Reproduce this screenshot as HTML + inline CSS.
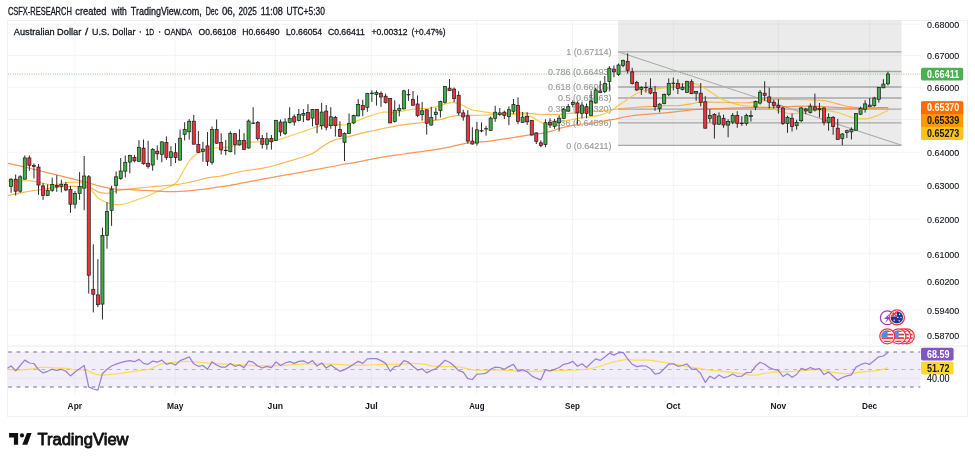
<!DOCTYPE html>
<html><head><meta charset="utf-8"><title>AUDUSD</title>
<style>html,body{margin:0;padding:0;background:#fff}body{width:975px;height:462px;overflow:hidden;font-family:"Liberation Sans", sans-serif}svg{display:block}text{font-family:"Liberation Sans", sans-serif}</style>
</head><body>
<svg width="975" height="462" viewBox="0 0 975 462">
<rect width="975" height="462" fill="#fff"/>
<g opacity="0.999">
<text x="7.9" y="15" font-size="10.3" fill="#131722" stroke="#131722" stroke-width="0.3" textLength="63.9" lengthAdjust="spacingAndGlyphs">CSFX-RESEARCH</text>
<text x="75.3" y="15" font-size="10.3" fill="#131722" stroke="#131722" stroke-width="0.3" textLength="31.1" lengthAdjust="spacingAndGlyphs">created</text>
<text x="111.6" y="15" font-size="10.3" fill="#131722" stroke="#131722" stroke-width="0.3" textLength="15.3" lengthAdjust="spacingAndGlyphs">with</text>
<text x="130.8" y="15" font-size="10.3" fill="#131722" stroke="#131722" stroke-width="0.3" textLength="71" lengthAdjust="spacingAndGlyphs">TradingView.com,</text>
<text x="205.7" y="15" font-size="10.3" fill="#131722" stroke="#131722" stroke-width="0.3" textLength="12.7" lengthAdjust="spacingAndGlyphs">Dec</text>
<text x="221.9" y="15" font-size="10.3" fill="#131722" stroke="#131722" stroke-width="0.3" textLength="13.4" lengthAdjust="spacingAndGlyphs">06,</text>
<text x="238.5" y="15" font-size="10.3" fill="#131722" stroke="#131722" stroke-width="0.3" textLength="18.3" lengthAdjust="spacingAndGlyphs">2025</text>
<text x="260.8" y="15" font-size="10.3" fill="#131722" stroke="#131722" stroke-width="0.3" textLength="22.1" lengthAdjust="spacingAndGlyphs">11:08</text>
<text x="286.4" y="15" font-size="10.3" fill="#131722" stroke="#131722" stroke-width="0.3" textLength="38.4" lengthAdjust="spacingAndGlyphs">UTC+5:30</text>
<rect x="7.5" y="20.4" width="960.1" height="396" fill="#fff" stroke="#efeff1" stroke-width="1"/>
<line x1="74.8" y1="21" x2="74.8" y2="394.8" stroke="#f3f4f6" stroke-width="1"/>
<line x1="175.2" y1="21" x2="175.2" y2="394.8" stroke="#f3f4f6" stroke-width="1"/>
<line x1="275.3" y1="21" x2="275.3" y2="394.8" stroke="#f3f4f6" stroke-width="1"/>
<line x1="371.4" y1="21" x2="371.4" y2="394.8" stroke="#f3f4f6" stroke-width="1"/>
<line x1="476.8" y1="21" x2="476.8" y2="394.8" stroke="#f3f4f6" stroke-width="1"/>
<line x1="572.5" y1="21" x2="572.5" y2="394.8" stroke="#f3f4f6" stroke-width="1"/>
<line x1="673.3" y1="21" x2="673.3" y2="394.8" stroke="#f3f4f6" stroke-width="1"/>
<line x1="778.4" y1="21" x2="778.4" y2="394.8" stroke="#f3f4f6" stroke-width="1"/>
<line x1="869.6" y1="21" x2="869.6" y2="394.8" stroke="#f3f4f6" stroke-width="1"/>
<line x1="8" y1="24.1" x2="920.3" y2="24.1" stroke="#f3f4f6" stroke-width="1"/>
<line x1="8" y1="55.4" x2="920.3" y2="55.4" stroke="#f3f4f6" stroke-width="1"/>
<line x1="8" y1="87.2" x2="920.3" y2="87.2" stroke="#f3f4f6" stroke-width="1"/>
<line x1="8" y1="119.5" x2="920.3" y2="119.5" stroke="#f3f4f6" stroke-width="1"/>
<line x1="8" y1="152.2" x2="920.3" y2="152.2" stroke="#f3f4f6" stroke-width="1"/>
<line x1="8" y1="185.5" x2="920.3" y2="185.5" stroke="#f3f4f6" stroke-width="1"/>
<line x1="8" y1="219.4" x2="920.3" y2="219.4" stroke="#f3f4f6" stroke-width="1"/>
<line x1="8" y1="253.7" x2="920.3" y2="253.7" stroke="#f3f4f6" stroke-width="1"/>
<line x1="8" y1="281.6" x2="920.3" y2="281.6" stroke="#f3f4f6" stroke-width="1"/>
<line x1="8" y1="309.9" x2="920.3" y2="309.9" stroke="#f3f4f6" stroke-width="1"/>
<line x1="8" y1="335.0" x2="920.3" y2="335.0" stroke="#f3f4f6" stroke-width="1"/>
<line x1="8" y1="346" x2="967.6" y2="346" stroke="#e9eaee" stroke-width="1"/>
<line x1="8" y1="378.2" x2="920.3" y2="378.2" stroke="#f3f4f6" stroke-width="1"/>
<rect x="618.1" y="20.5" width="283.4" height="124.8" fill="#7d7d7d" fill-opacity="0.155"/>
<line x1="618.1" y1="51.8" x2="901.5" y2="51.8" stroke="#a7a7a7" stroke-width="1.3"/>
<text x="611.5" y="55.0" font-size="9" fill="#9c9c9c" stroke="#9c9c9c" stroke-width="0.15" text-anchor="end">1 (0.67114)</text>
<line x1="618.1" y1="71.5" x2="901.5" y2="71.5" stroke="#a7a7a7" stroke-width="1.3"/>
<text x="611.5" y="74.7" font-size="9" fill="#9c9c9c" stroke="#9c9c9c" stroke-width="0.15" text-anchor="end">0.786 (0.66493)</text>
<line x1="618.1" y1="87.0" x2="901.5" y2="87.0" stroke="#a7a7a7" stroke-width="1.3"/>
<text x="611.5" y="90.2" font-size="9" fill="#9c9c9c" stroke="#9c9c9c" stroke-width="0.15" text-anchor="end">0.618 (0.66005)</text>
<line x1="618.1" y1="98.0" x2="901.5" y2="98.0" stroke="#a7a7a7" stroke-width="1.3"/>
<text x="611.5" y="101.2" font-size="9" fill="#9c9c9c" stroke="#9c9c9c" stroke-width="0.15" text-anchor="end">0.5 (0.65663)</text>
<line x1="618.1" y1="109.1" x2="901.5" y2="109.1" stroke="#a7a7a7" stroke-width="1.3"/>
<text x="611.5" y="112.3" font-size="9" fill="#9c9c9c" stroke="#9c9c9c" stroke-width="0.15" text-anchor="end">0.382 (0.65320)</text>
<line x1="618.1" y1="122.8" x2="901.5" y2="122.8" stroke="#a7a7a7" stroke-width="1.3"/>
<text x="611.5" y="126.0" font-size="9" fill="#9c9c9c" stroke="#9c9c9c" stroke-width="0.15" text-anchor="end">0.236 (0.64896)</text>
<line x1="618.1" y1="145.3" x2="901.5" y2="145.3" stroke="#a7a7a7" stroke-width="1.3"/>
<text x="611.5" y="148.5" font-size="9" fill="#9c9c9c" stroke="#9c9c9c" stroke-width="0.15" text-anchor="end">0 (0.64211)</text>
<line x1="618.1" y1="51.8" x2="901.5" y2="145.3" stroke="#ababab" stroke-width="1.1"/>
<line x1="8" y1="74.1" x2="920.3" y2="74.1" stroke="#4caf50" stroke-width="1" stroke-dasharray="0.9 1.45" opacity="0.72"/>
<path d="M8.2 181.2 C12.0 181.1 25.3 180.5 30.8 180.8 C36.3 181.1 37.2 182.1 41.0 182.8 C44.8 183.5 48.8 185.0 53.3 184.9 C57.8 184.8 62.9 182.8 67.7 182.4 C72.5 182.1 78.2 181.7 82.0 182.8 C85.8 183.9 87.5 186.4 90.3 189.0 C93.0 191.6 95.1 195.7 98.5 198.2 C101.9 200.7 106.8 203.0 110.8 204.0 C114.8 205.0 118.3 204.9 122.3 204.3 C126.3 203.7 130.6 201.9 134.7 200.6 C138.8 199.3 142.9 198.0 147.0 196.3 C151.1 194.7 155.2 192.4 159.3 190.7 C163.4 188.9 168.6 187.5 171.7 185.8 C174.8 184.2 175.8 183.5 177.8 180.8 C179.9 178.1 181.9 173.2 184.0 169.7 C186.1 166.2 188.1 162.5 190.2 159.9 C192.2 157.3 194.1 155.9 196.3 154.3 C198.6 152.8 200.6 151.6 203.7 150.6 C206.8 149.6 211.2 148.6 214.8 148.1 C218.4 147.6 222.1 147.7 225.0 147.4 C227.9 147.1 228.0 146.9 232.3 146.1 C236.6 145.3 244.6 143.2 250.8 142.4 C257.0 141.6 264.6 141.7 269.3 141.2 C274.0 140.7 275.9 140.3 279.2 139.5 C282.5 138.7 285.6 137.4 289.1 136.2 C292.6 135.0 296.3 133.8 300.2 132.5 C304.1 131.2 309.4 129.2 312.5 128.2 C315.6 127.2 315.6 126.9 318.7 126.3 C321.8 125.7 327.9 124.7 331.0 124.4 C334.1 124.1 335.1 124.2 337.4 124.3 C339.7 124.4 341.9 125.4 344.8 125.0 C347.7 124.6 351.0 123.2 354.7 121.9 C358.4 120.6 362.9 118.4 367.0 116.9 C371.1 115.4 376.2 113.8 379.3 113.0 C382.4 112.2 383.0 112.1 385.5 112.0 C388.0 111.9 391.0 112.8 394.1 112.6 C397.2 112.4 400.3 111.4 404.0 110.8 C407.7 110.2 412.2 109.3 416.3 108.9 C420.4 108.5 424.6 108.9 428.7 108.3 C432.8 107.7 437.9 106.2 441.0 105.4 C444.1 104.6 445.3 103.8 447.4 103.3 C449.5 102.8 451.3 102.5 453.6 102.7 C455.9 102.9 458.1 103.4 461.0 104.5 C463.9 105.6 467.5 108.4 470.8 109.5 C474.1 110.6 477.6 110.8 480.7 111.3 C483.8 111.8 486.8 112.2 489.3 112.6 C491.8 113.0 493.0 113.6 495.5 113.8 C498.0 114.0 501.0 113.7 504.1 113.8 C507.2 113.9 510.3 114.2 514.0 114.4 C517.7 114.6 523.0 114.4 526.3 115.0 C529.6 115.6 531.0 116.8 533.7 118.1 C536.4 119.4 539.5 122.0 542.4 123.0 C545.3 124.0 547.7 124.5 551.0 124.3 C554.3 124.0 558.3 122.4 562.3 121.5 C566.2 120.6 570.6 119.8 574.7 119.1 C578.8 118.4 582.9 117.8 587.0 117.2 C591.1 116.6 595.6 116.3 599.3 115.4 C603.0 114.5 606.1 113.2 609.2 111.7 C612.3 110.2 614.9 108.1 617.8 106.1 C620.7 104.1 624.1 101.6 626.5 99.9 C628.9 98.2 630.0 97.4 632.0 96.2 C634.0 95.0 636.0 93.6 638.8 92.5 C641.6 91.4 645.0 90.3 648.7 89.6 C652.4 88.9 657.9 88.8 661.0 88.4 C664.1 88.0 664.9 87.9 667.4 87.3 C669.9 86.7 673.1 85.6 676.0 85.0 C678.9 84.4 681.6 83.8 684.7 83.6 C687.8 83.4 691.4 83.0 694.5 83.6 C697.6 84.2 700.3 85.8 703.2 87.3 C706.1 88.8 708.7 90.8 711.8 92.8 C714.9 94.8 718.4 97.3 721.7 99.0 C725.0 100.7 728.4 101.7 731.5 102.7 C734.6 103.7 736.7 104.6 740.2 105.2 C743.7 105.8 749.4 106.1 752.5 106.4 C755.6 106.7 755.6 106.5 758.7 106.8 C761.8 107.1 767.9 107.6 771.0 108.2 C774.1 108.8 774.9 109.8 777.4 110.6 C779.9 111.4 783.1 112.6 786.0 113.1 C788.9 113.6 791.8 113.9 794.7 113.7 C797.6 113.5 800.2 112.5 803.3 111.9 C806.4 111.3 809.5 110.2 813.2 110.0 C816.9 109.8 821.4 110.2 825.5 110.6 C829.6 111.0 833.7 111.5 837.8 112.5 C841.9 113.5 846.7 115.8 850.2 116.8 C853.7 117.8 855.7 118.5 858.8 118.7 C861.9 119.0 865.6 118.8 868.7 118.3 C871.8 117.8 874.8 116.6 877.3 115.6 C879.8 114.6 881.8 113.3 883.5 112.5 C885.2 111.7 887.1 110.9 887.8 110.6" fill="none" stroke="#fbc63a" stroke-width="1.2" stroke-linejoin="round" stroke-linecap="round" opacity="0.9"/>
<path d="M8.2 195.5 C10.9 194.9 19.1 193.1 24.6 192.1 C30.1 191.1 34.9 190.5 41.0 189.6 C47.1 188.7 55.4 187.4 61.5 186.9 C67.7 186.4 73.1 186.3 77.9 186.5 C82.7 186.7 86.9 187.0 90.3 187.9 C93.7 188.8 95.4 191.2 98.5 192.1 C101.6 193.0 105.3 193.4 108.7 193.1 C112.1 192.8 114.9 191.1 119.0 190.3 C123.1 189.6 127.5 189.2 133.3 188.6 C139.1 188.0 147.0 187.2 153.8 186.6 C160.6 186.0 168.0 185.7 174.1 184.9 C180.2 184.2 184.4 183.3 190.2 182.1 C196.0 180.9 203.7 178.6 208.7 177.6 C213.7 176.6 215.0 177.2 220.0 176.3 C225.0 175.4 231.3 173.4 238.5 172.0 C245.7 170.6 256.0 169.5 263.2 168.1 C270.4 166.7 275.5 165.1 281.7 163.4 C287.9 161.7 295.1 159.5 300.2 157.8 C305.3 156.2 308.4 155.7 312.5 153.5 C316.6 151.3 321.1 147.2 324.8 144.9 C328.5 142.6 332.1 140.9 334.7 139.9 C337.3 138.9 338.0 139.2 340.3 138.7 C342.6 138.2 345.2 137.5 348.5 136.7 C351.8 135.8 355.9 134.6 360.0 133.6 C364.1 132.6 368.9 131.7 373.2 130.8 C377.4 129.9 380.4 129.0 385.5 128.0 C390.6 127.0 397.8 125.5 404.0 124.6 C410.2 123.7 417.4 123.2 422.5 122.5 C427.6 121.8 431.2 121.1 434.8 120.4 C438.4 119.8 441.1 119.3 444.0 118.6 C446.9 117.9 448.9 116.8 452.3 116.3 C455.8 115.8 458.5 115.6 464.7 115.4 C470.9 115.2 483.1 115.2 489.3 115.0 C495.5 114.8 496.5 114.5 501.7 114.2 C506.9 113.9 514.0 112.9 520.2 112.9 C526.4 112.9 532.9 113.9 538.7 114.2 C544.5 114.5 549.0 114.7 555.0 114.5 C561.0 114.3 568.3 113.4 574.7 112.9 C581.1 112.4 587.0 112.2 593.2 111.7 C599.4 111.2 607.4 110.3 611.7 109.8 C616.0 109.3 615.0 109.2 619.1 108.8 C623.2 108.4 630.3 107.7 636.3 107.3 C642.2 106.9 649.8 106.6 654.8 106.3 C659.8 106.0 662.0 105.7 666.0 105.6 C670.0 105.5 674.4 105.9 678.5 105.6 C682.6 105.3 687.1 104.5 690.8 103.9 C694.5 103.4 695.6 102.6 700.7 102.3 C705.9 102.0 714.1 102.2 721.7 102.3 C729.3 102.4 739.1 103.0 746.3 102.7 C753.5 102.5 760.0 101.3 764.8 100.8 C769.6 100.2 770.0 99.6 775.0 99.4 C780.0 99.2 788.3 99.4 794.7 99.5 C801.1 99.6 808.1 99.7 813.2 99.9 C818.3 100.1 821.4 100.1 825.5 100.8 C829.6 101.5 833.7 102.9 837.8 103.9 C841.9 104.9 846.1 106.2 850.2 106.9 C854.3 107.6 857.4 108.0 862.5 108.2 C867.6 108.4 876.8 108.0 881.0 107.9 C885.2 107.9 886.7 107.9 887.8 107.9" fill="none" stroke="#ffa62b" stroke-width="1.15" stroke-linejoin="round" stroke-linecap="round" opacity="0.85"/>
<path d="M8.2 163.3 C12.0 164.2 23.6 166.8 30.8 168.5 C38.0 170.2 44.5 171.9 51.3 173.6 C58.1 175.3 65.6 177.2 71.8 178.7 C78.0 180.2 83.1 181.4 88.2 182.8 C93.3 184.2 98.1 185.9 102.6 186.9 C107.0 187.9 109.6 188.5 114.9 189.0 C120.2 189.5 127.3 189.4 134.7 189.8 C142.1 190.2 152.7 191.0 159.3 191.3 C165.9 191.6 167.9 191.8 174.1 191.6 C180.3 191.4 189.5 190.8 196.3 190.1 C203.1 189.4 209.2 188.4 214.8 187.6 C220.5 186.8 224.2 186.4 230.2 185.4 C236.2 184.4 242.2 182.9 250.8 181.3 C259.4 179.7 271.4 177.5 281.7 175.7 C292.0 173.8 302.7 172.0 312.5 170.2 C322.3 168.4 333.3 166.3 340.3 165.0 C347.3 163.7 348.2 163.8 354.7 162.6 C361.2 161.4 371.1 159.1 379.3 157.7 C387.5 156.3 395.8 155.2 404.0 154.0 C412.2 152.8 421.0 151.9 428.7 150.7 C436.4 149.5 444.3 148.0 450.3 146.8 C456.3 145.6 458.2 144.6 464.7 143.6 C471.2 142.6 481.1 142.1 489.3 141.1 C497.5 140.1 507.0 138.5 514.0 137.4 C521.0 136.3 526.6 135.4 531.3 134.7 C536.0 134.0 539.1 133.9 542.4 133.3 C545.7 132.7 547.7 132.1 551.0 131.2 C554.3 130.3 558.3 128.7 562.3 127.7 C566.2 126.7 569.6 126.0 574.7 125.2 C579.9 124.4 587.0 123.7 593.2 122.8 C599.4 121.9 605.5 120.8 611.7 119.7 C617.9 118.6 624.0 116.9 630.2 116.0 C636.4 115.1 643.4 114.6 648.7 114.1 C654.0 113.6 657.0 113.7 662.0 113.2 C667.0 112.7 672.7 111.9 678.5 111.3 C684.3 110.7 689.8 110.0 697.0 109.5 C704.2 109.0 713.5 108.8 721.7 108.5 C729.9 108.2 739.1 107.8 746.3 107.6 C753.5 107.4 759.1 107.7 764.8 107.6 C770.5 107.5 775.3 107.2 780.3 107.0 C785.3 106.8 788.2 106.4 794.7 106.3 C801.2 106.2 812.1 106.1 819.3 106.3 C826.5 106.5 831.6 107.3 837.8 107.6 C844.0 107.9 850.1 108.2 856.3 108.2 C862.5 108.2 869.5 108.0 874.8 107.9 C880.0 107.8 885.6 107.6 887.8 107.6" fill="none" stroke="#ff7a2e" stroke-width="1.25" stroke-linejoin="round" stroke-linecap="round" opacity="0.8"/>
<line x1="11.10" y1="178.2" x2="11.10" y2="192.8" stroke="#2a2a2a" stroke-width="1"/>
<rect x="9.55" y="179.2" width="3.1" height="7.4" fill="#3fae45" stroke="#1b1b1b" stroke-width="0.7"/>
<line x1="15.67" y1="174.5" x2="15.67" y2="195.5" stroke="#2a2a2a" stroke-width="1"/>
<rect x="14.12" y="179.2" width="3.1" height="12.0" fill="#f0323f" stroke="#1b1b1b" stroke-width="0.7"/>
<line x1="20.23" y1="175.2" x2="20.23" y2="192.8" stroke="#2a2a2a" stroke-width="1"/>
<rect x="18.68" y="176.8" width="3.1" height="14.4" fill="#3fae45" stroke="#1b1b1b" stroke-width="0.7"/>
<line x1="24.80" y1="155.4" x2="24.80" y2="179.5" stroke="#2a2a2a" stroke-width="1"/>
<rect x="23.25" y="157.9" width="3.1" height="21.3" fill="#3fae45" stroke="#1b1b1b" stroke-width="0.7"/>
<line x1="29.37" y1="155.4" x2="29.37" y2="170.8" stroke="#2a2a2a" stroke-width="1"/>
<rect x="27.82" y="157.9" width="3.1" height="7.4" fill="#f0323f" stroke="#1b1b1b" stroke-width="0.7"/>
<line x1="33.94" y1="163.4" x2="33.94" y2="178.5" stroke="#2a2a2a" stroke-width="1"/>
<rect x="32.39" y="165.3" width="3.1" height="1.2" fill="#f0323f" stroke="#1b1b1b" stroke-width="0.7"/>
<line x1="38.50" y1="164.1" x2="38.50" y2="194.9" stroke="#2a2a2a" stroke-width="1"/>
<rect x="36.95" y="167.1" width="3.1" height="17.9" fill="#f0323f" stroke="#1b1b1b" stroke-width="0.7"/>
<line x1="43.07" y1="183.2" x2="43.07" y2="199.9" stroke="#2a2a2a" stroke-width="1"/>
<rect x="41.52" y="185.9" width="3.1" height="9.6" fill="#f0323f" stroke="#1b1b1b" stroke-width="0.7"/>
<line x1="47.64" y1="184.4" x2="47.64" y2="196.0" stroke="#2a2a2a" stroke-width="1"/>
<rect x="46.09" y="190.3" width="3.1" height="5.2" fill="#3fae45" stroke="#1b1b1b" stroke-width="0.7"/>
<line x1="52.20" y1="177.6" x2="52.20" y2="191.8" stroke="#2a2a2a" stroke-width="1"/>
<rect x="50.65" y="184.4" width="3.1" height="5.9" fill="#3fae45" stroke="#1b1b1b" stroke-width="0.7"/>
<line x1="56.77" y1="175.2" x2="56.77" y2="191.8" stroke="#2a2a2a" stroke-width="1"/>
<rect x="55.22" y="185.4" width="3.1" height="1.5" fill="#f0323f" stroke="#1b1b1b" stroke-width="0.7"/>
<line x1="61.34" y1="179.7" x2="61.34" y2="192.4" stroke="#2a2a2a" stroke-width="1"/>
<rect x="59.79" y="184.6" width="3.1" height="1.7" fill="#3fae45" stroke="#1b1b1b" stroke-width="0.7"/>
<line x1="65.90" y1="181.9" x2="65.90" y2="191.2" stroke="#2a2a2a" stroke-width="1"/>
<rect x="64.35" y="184.4" width="3.1" height="5.6" fill="#f0323f" stroke="#1b1b1b" stroke-width="0.7"/>
<line x1="70.47" y1="185.9" x2="70.47" y2="212.8" stroke="#2a2a2a" stroke-width="1"/>
<rect x="68.92" y="189.6" width="3.1" height="14.6" fill="#f0323f" stroke="#1b1b1b" stroke-width="0.7"/>
<line x1="75.04" y1="191.0" x2="75.04" y2="208.5" stroke="#2a2a2a" stroke-width="1"/>
<rect x="73.49" y="193.5" width="3.1" height="10.7" fill="#3fae45" stroke="#1b1b1b" stroke-width="0.7"/>
<line x1="79.60" y1="172.1" x2="79.60" y2="199.9" stroke="#2a2a2a" stroke-width="1"/>
<rect x="78.05" y="186.6" width="3.1" height="6.9" fill="#3fae45" stroke="#1b1b1b" stroke-width="0.7"/>
<line x1="84.17" y1="156.0" x2="84.17" y2="210.3" stroke="#2a2a2a" stroke-width="1"/>
<rect x="82.62" y="176.0" width="3.1" height="12.1" fill="#3fae45" stroke="#1b1b1b" stroke-width="0.7"/>
<line x1="88.74" y1="175.1" x2="88.74" y2="293.6" stroke="#2a2a2a" stroke-width="1"/>
<rect x="87.19" y="176.8" width="3.1" height="98.4" fill="#f0323f" stroke="#1b1b1b" stroke-width="0.7"/>
<line x1="93.31" y1="244.3" x2="93.31" y2="312.4" stroke="#2a2a2a" stroke-width="1"/>
<rect x="91.76" y="289.3" width="3.1" height="4.9" fill="#f0323f" stroke="#1b1b1b" stroke-width="0.7"/>
<line x1="97.87" y1="259.1" x2="97.87" y2="307.2" stroke="#2a2a2a" stroke-width="1"/>
<rect x="96.32" y="294.9" width="3.1" height="9.8" fill="#f0323f" stroke="#1b1b1b" stroke-width="0.7"/>
<line x1="102.44" y1="227.6" x2="102.44" y2="319.5" stroke="#2a2a2a" stroke-width="1"/>
<rect x="100.89" y="235.4" width="3.1" height="68.7" fill="#3fae45" stroke="#1b1b1b" stroke-width="0.7"/>
<line x1="107.01" y1="202.3" x2="107.01" y2="248.6" stroke="#2a2a2a" stroke-width="1"/>
<rect x="105.46" y="211.6" width="3.1" height="23.8" fill="#3fae45" stroke="#1b1b1b" stroke-width="0.7"/>
<line x1="111.57" y1="185.9" x2="111.57" y2="225.8" stroke="#2a2a2a" stroke-width="1"/>
<rect x="110.02" y="189.1" width="3.1" height="21.2" fill="#3fae45" stroke="#1b1b1b" stroke-width="0.7"/>
<line x1="116.14" y1="171.5" x2="116.14" y2="193.5" stroke="#2a2a2a" stroke-width="1"/>
<rect x="114.59" y="176.8" width="3.1" height="8.5" fill="#3fae45" stroke="#1b1b1b" stroke-width="0.7"/>
<line x1="120.71" y1="158.0" x2="120.71" y2="179.8" stroke="#2a2a2a" stroke-width="1"/>
<rect x="119.16" y="171.0" width="3.1" height="7.6" fill="#3fae45" stroke="#1b1b1b" stroke-width="0.7"/>
<line x1="125.28" y1="155.5" x2="125.28" y2="177.4" stroke="#2a2a2a" stroke-width="1"/>
<rect x="123.73" y="162.3" width="3.1" height="8.9" fill="#3fae45" stroke="#1b1b1b" stroke-width="0.7"/>
<line x1="129.84" y1="154.9" x2="129.84" y2="173.4" stroke="#2a2a2a" stroke-width="1"/>
<rect x="128.29" y="155.5" width="3.1" height="6.6" fill="#3fae45" stroke="#1b1b1b" stroke-width="0.7"/>
<line x1="134.41" y1="154.9" x2="134.41" y2="162.3" stroke="#2a2a2a" stroke-width="1"/>
<rect x="132.86" y="157.4" width="3.1" height="3.5" fill="#f0323f" stroke="#1b1b1b" stroke-width="0.7"/>
<line x1="138.98" y1="140.1" x2="138.98" y2="161.7" stroke="#2a2a2a" stroke-width="1"/>
<rect x="137.43" y="147.5" width="3.1" height="13.8" fill="#3fae45" stroke="#1b1b1b" stroke-width="0.7"/>
<line x1="143.54" y1="139.5" x2="143.54" y2="164.6" stroke="#2a2a2a" stroke-width="1"/>
<rect x="141.99" y="148.1" width="3.1" height="15.7" fill="#f0323f" stroke="#1b1b1b" stroke-width="0.7"/>
<line x1="148.11" y1="140.9" x2="148.11" y2="168.5" stroke="#2a2a2a" stroke-width="1"/>
<rect x="146.56" y="163.3" width="3.1" height="3.0" fill="#f0323f" stroke="#1b1b1b" stroke-width="0.7"/>
<line x1="152.68" y1="148.1" x2="152.68" y2="170.7" stroke="#2a2a2a" stroke-width="1"/>
<rect x="151.13" y="149.3" width="3.1" height="15.7" fill="#3fae45" stroke="#1b1b1b" stroke-width="0.7"/>
<line x1="157.24" y1="145.4" x2="157.24" y2="159.9" stroke="#2a2a2a" stroke-width="1"/>
<rect x="155.69" y="151.2" width="3.1" height="2.6" fill="#f0323f" stroke="#1b1b1b" stroke-width="0.7"/>
<line x1="161.81" y1="141.3" x2="161.81" y2="162.3" stroke="#2a2a2a" stroke-width="1"/>
<rect x="160.26" y="141.9" width="3.1" height="12.4" fill="#3fae45" stroke="#1b1b1b" stroke-width="0.7"/>
<line x1="166.38" y1="136.4" x2="166.38" y2="159.9" stroke="#2a2a2a" stroke-width="1"/>
<rect x="164.83" y="142.6" width="3.1" height="14.8" fill="#f0323f" stroke="#1b1b1b" stroke-width="0.7"/>
<line x1="170.94" y1="146.3" x2="170.94" y2="166.3" stroke="#2a2a2a" stroke-width="1"/>
<rect x="169.39" y="151.8" width="3.1" height="5.8" fill="#3fae45" stroke="#1b1b1b" stroke-width="0.7"/>
<line x1="175.51" y1="143.2" x2="175.51" y2="163.0" stroke="#2a2a2a" stroke-width="1"/>
<rect x="173.96" y="152.7" width="3.1" height="4.9" fill="#f0323f" stroke="#1b1b1b" stroke-width="0.7"/>
<line x1="180.08" y1="129.6" x2="180.08" y2="160.5" stroke="#2a2a2a" stroke-width="1"/>
<rect x="178.53" y="138.2" width="3.1" height="21.9" fill="#3fae45" stroke="#1b1b1b" stroke-width="0.7"/>
<line x1="184.65" y1="122.2" x2="184.65" y2="140.5" stroke="#2a2a2a" stroke-width="1"/>
<rect x="183.10" y="129.6" width="3.1" height="4.7" fill="#3fae45" stroke="#1b1b1b" stroke-width="0.7"/>
<line x1="189.21" y1="119.1" x2="189.21" y2="139.7" stroke="#2a2a2a" stroke-width="1"/>
<rect x="187.66" y="121.2" width="3.1" height="10.6" fill="#3fae45" stroke="#1b1b1b" stroke-width="0.7"/>
<line x1="193.78" y1="115.0" x2="193.78" y2="144.4" stroke="#2a2a2a" stroke-width="1"/>
<rect x="192.23" y="121.2" width="3.1" height="23.0" fill="#f0323f" stroke="#1b1b1b" stroke-width="0.7"/>
<line x1="198.35" y1="131.1" x2="198.35" y2="153.0" stroke="#2a2a2a" stroke-width="1"/>
<rect x="196.80" y="144.4" width="3.1" height="7.9" fill="#f0323f" stroke="#1b1b1b" stroke-width="0.7"/>
<line x1="202.91" y1="141.9" x2="202.91" y2="161.7" stroke="#2a2a2a" stroke-width="1"/>
<rect x="201.36" y="149.1" width="3.1" height="2.5" fill="#3fae45" stroke="#1b1b1b" stroke-width="0.7"/>
<line x1="207.48" y1="132.1" x2="207.48" y2="166.0" stroke="#2a2a2a" stroke-width="1"/>
<rect x="205.93" y="145.9" width="3.1" height="15.4" fill="#f0323f" stroke="#1b1b1b" stroke-width="0.7"/>
<line x1="212.05" y1="126.5" x2="212.05" y2="164.6" stroke="#2a2a2a" stroke-width="1"/>
<rect x="210.50" y="129.6" width="3.1" height="32.7" fill="#3fae45" stroke="#1b1b1b" stroke-width="0.7"/>
<line x1="216.62" y1="119.5" x2="216.62" y2="143.8" stroke="#2a2a2a" stroke-width="1"/>
<rect x="215.06" y="129.6" width="3.1" height="13.6" fill="#f0323f" stroke="#1b1b1b" stroke-width="0.7"/>
<line x1="221.18" y1="133.3" x2="221.18" y2="154.5" stroke="#2a2a2a" stroke-width="1"/>
<rect x="219.63" y="142.6" width="3.1" height="7.3" fill="#f0323f" stroke="#1b1b1b" stroke-width="0.7"/>
<line x1="225.75" y1="139.9" x2="225.75" y2="155.3" stroke="#2a2a2a" stroke-width="1"/>
<line x1="223.85" y1="150.4" x2="227.65" y2="150.4" stroke="#1b1b1b" stroke-width="1.1"/>
<line x1="230.32" y1="131.3" x2="230.32" y2="152.3" stroke="#2a2a2a" stroke-width="1"/>
<rect x="228.77" y="133.3" width="3.1" height="18.4" fill="#3fae45" stroke="#1b1b1b" stroke-width="0.7"/>
<line x1="234.88" y1="133.1" x2="234.88" y2="154.7" stroke="#2a2a2a" stroke-width="1"/>
<rect x="233.33" y="133.7" width="3.1" height="10.9" fill="#f0323f" stroke="#1b1b1b" stroke-width="0.7"/>
<line x1="239.45" y1="129.4" x2="239.45" y2="145.5" stroke="#2a2a2a" stroke-width="1"/>
<rect x="237.90" y="140.5" width="3.1" height="4.4" fill="#3fae45" stroke="#1b1b1b" stroke-width="0.7"/>
<line x1="244.02" y1="133.1" x2="244.02" y2="149.8" stroke="#2a2a2a" stroke-width="1"/>
<rect x="242.47" y="140.5" width="3.1" height="9.1" fill="#f0323f" stroke="#1b1b1b" stroke-width="0.7"/>
<line x1="248.58" y1="119.5" x2="248.58" y2="148.6" stroke="#2a2a2a" stroke-width="1"/>
<rect x="247.03" y="121.0" width="3.1" height="27.0" fill="#3fae45" stroke="#1b1b1b" stroke-width="0.7"/>
<line x1="253.15" y1="107.2" x2="253.15" y2="124.0" stroke="#2a2a2a" stroke-width="1"/>
<line x1="251.25" y1="123.2" x2="255.05" y2="123.2" stroke="#1b1b1b" stroke-width="1.1"/>
<line x1="257.72" y1="121.0" x2="257.72" y2="140.5" stroke="#2a2a2a" stroke-width="1"/>
<rect x="256.17" y="122.6" width="3.1" height="16.1" fill="#f0323f" stroke="#1b1b1b" stroke-width="0.7"/>
<line x1="262.29" y1="135.0" x2="262.29" y2="148.6" stroke="#2a2a2a" stroke-width="1"/>
<rect x="260.74" y="138.4" width="3.1" height="5.9" fill="#f0323f" stroke="#1b1b1b" stroke-width="0.7"/>
<line x1="266.85" y1="132.5" x2="266.85" y2="149.6" stroke="#2a2a2a" stroke-width="1"/>
<rect x="265.30" y="138.8" width="3.1" height="5.5" fill="#3fae45" stroke="#1b1b1b" stroke-width="0.7"/>
<line x1="271.42" y1="135.0" x2="271.42" y2="149.6" stroke="#2a2a2a" stroke-width="1"/>
<rect x="269.87" y="138.4" width="3.1" height="3.4" fill="#f0323f" stroke="#1b1b1b" stroke-width="0.7"/>
<line x1="275.99" y1="119.8" x2="275.99" y2="141.0" stroke="#2a2a2a" stroke-width="1"/>
<rect x="274.44" y="120.5" width="3.1" height="20.0" fill="#3fae45" stroke="#1b1b1b" stroke-width="0.7"/>
<line x1="280.55" y1="119.5" x2="280.55" y2="136.2" stroke="#2a2a2a" stroke-width="1"/>
<rect x="279.00" y="122.0" width="3.1" height="9.9" fill="#f0323f" stroke="#1b1b1b" stroke-width="0.7"/>
<line x1="285.12" y1="118.3" x2="285.12" y2="135.0" stroke="#2a2a2a" stroke-width="1"/>
<rect x="283.57" y="122.0" width="3.1" height="11.3" fill="#3fae45" stroke="#1b1b1b" stroke-width="0.7"/>
<line x1="289.69" y1="107.2" x2="289.69" y2="123.5" stroke="#2a2a2a" stroke-width="1"/>
<rect x="288.14" y="118.3" width="3.1" height="4.3" fill="#3fae45" stroke="#1b1b1b" stroke-width="0.7"/>
<line x1="294.25" y1="114.4" x2="294.25" y2="125.7" stroke="#2a2a2a" stroke-width="1"/>
<rect x="292.70" y="116.8" width="3.1" height="5.2" fill="#f0323f" stroke="#1b1b1b" stroke-width="0.7"/>
<line x1="298.82" y1="109.1" x2="298.82" y2="121.4" stroke="#2a2a2a" stroke-width="1"/>
<rect x="297.27" y="114.4" width="3.1" height="6.1" fill="#3fae45" stroke="#1b1b1b" stroke-width="0.7"/>
<line x1="303.39" y1="109.1" x2="303.39" y2="122.0" stroke="#2a2a2a" stroke-width="1"/>
<rect x="301.84" y="113.4" width="3.1" height="1.8" fill="#3fae45" stroke="#1b1b1b" stroke-width="0.7"/>
<line x1="307.96" y1="104.1" x2="307.96" y2="120.8" stroke="#2a2a2a" stroke-width="1"/>
<rect x="306.41" y="112.4" width="3.1" height="7.4" fill="#f0323f" stroke="#1b1b1b" stroke-width="0.7"/>
<line x1="312.52" y1="109.1" x2="312.52" y2="126.3" stroke="#2a2a2a" stroke-width="1"/>
<rect x="310.97" y="109.4" width="3.1" height="8.7" fill="#3fae45" stroke="#1b1b1b" stroke-width="0.7"/>
<line x1="317.09" y1="109.1" x2="317.09" y2="133.3" stroke="#2a2a2a" stroke-width="1"/>
<rect x="315.54" y="109.4" width="3.1" height="15.1" fill="#f0323f" stroke="#1b1b1b" stroke-width="0.7"/>
<line x1="321.66" y1="102.9" x2="321.66" y2="129.6" stroke="#2a2a2a" stroke-width="1"/>
<rect x="320.11" y="112.1" width="3.1" height="13.6" fill="#3fae45" stroke="#1b1b1b" stroke-width="0.7"/>
<line x1="326.22" y1="105.0" x2="326.22" y2="130.4" stroke="#2a2a2a" stroke-width="1"/>
<rect x="324.67" y="111.1" width="3.1" height="16.1" fill="#f0323f" stroke="#1b1b1b" stroke-width="0.7"/>
<line x1="330.79" y1="107.2" x2="330.79" y2="128.8" stroke="#2a2a2a" stroke-width="1"/>
<rect x="329.24" y="116.8" width="3.1" height="8.9" fill="#3fae45" stroke="#1b1b1b" stroke-width="0.7"/>
<line x1="335.36" y1="115.8" x2="335.36" y2="136.5" stroke="#2a2a2a" stroke-width="1"/>
<rect x="333.81" y="117.4" width="3.1" height="8.3" fill="#f0323f" stroke="#1b1b1b" stroke-width="0.7"/>
<line x1="339.92" y1="121.3" x2="339.92" y2="136.7" stroke="#2a2a2a" stroke-width="1"/>
<rect x="338.37" y="129.5" width="3.1" height="6.8" fill="#f0323f" stroke="#1b1b1b" stroke-width="0.7"/>
<line x1="344.49" y1="132.4" x2="344.49" y2="161.0" stroke="#2a2a2a" stroke-width="1"/>
<rect x="342.94" y="133.6" width="3.1" height="8.7" fill="#3fae45" stroke="#1b1b1b" stroke-width="0.7"/>
<line x1="349.06" y1="113.5" x2="349.06" y2="133.6" stroke="#2a2a2a" stroke-width="1"/>
<rect x="347.51" y="123.3" width="3.1" height="10.1" fill="#3fae45" stroke="#1b1b1b" stroke-width="0.7"/>
<line x1="353.63" y1="114.7" x2="353.63" y2="124.1" stroke="#2a2a2a" stroke-width="1"/>
<rect x="352.08" y="115.5" width="3.1" height="7.4" fill="#3fae45" stroke="#1b1b1b" stroke-width="0.7"/>
<line x1="358.19" y1="99.1" x2="358.19" y2="116.3" stroke="#2a2a2a" stroke-width="1"/>
<rect x="356.64" y="104.4" width="3.1" height="11.5" fill="#3fae45" stroke="#1b1b1b" stroke-width="0.7"/>
<line x1="362.76" y1="99.7" x2="362.76" y2="116.3" stroke="#2a2a2a" stroke-width="1"/>
<rect x="361.21" y="105.6" width="3.1" height="4.2" fill="#f0323f" stroke="#1b1b1b" stroke-width="0.7"/>
<line x1="367.33" y1="92.9" x2="367.33" y2="111.8" stroke="#2a2a2a" stroke-width="1"/>
<rect x="365.78" y="93.3" width="3.1" height="14.0" fill="#3fae45" stroke="#1b1b1b" stroke-width="0.7"/>
<line x1="371.89" y1="90.4" x2="371.89" y2="101.9" stroke="#2a2a2a" stroke-width="1"/>
<line x1="369.99" y1="93.3" x2="373.79" y2="93.3" stroke="#1b1b1b" stroke-width="1.1"/>
<line x1="376.46" y1="90.4" x2="376.46" y2="105.6" stroke="#2a2a2a" stroke-width="1"/>
<rect x="374.91" y="92.5" width="3.1" height="2.0" fill="#3fae45" stroke="#1b1b1b" stroke-width="0.7"/>
<line x1="381.03" y1="91.3" x2="381.03" y2="106.8" stroke="#2a2a2a" stroke-width="1"/>
<rect x="379.48" y="93.3" width="3.1" height="3.7" fill="#f0323f" stroke="#1b1b1b" stroke-width="0.7"/>
<line x1="385.59" y1="93.7" x2="385.59" y2="103.6" stroke="#2a2a2a" stroke-width="1"/>
<rect x="384.04" y="96.2" width="3.1" height="6.2" fill="#f0323f" stroke="#1b1b1b" stroke-width="0.7"/>
<line x1="390.16" y1="97.8" x2="390.16" y2="123.3" stroke="#2a2a2a" stroke-width="1"/>
<rect x="388.61" y="98.4" width="3.1" height="24.5" fill="#f0323f" stroke="#1b1b1b" stroke-width="0.7"/>
<line x1="394.73" y1="100.3" x2="394.73" y2="122.5" stroke="#2a2a2a" stroke-width="1"/>
<rect x="393.18" y="110.2" width="3.1" height="11.4" fill="#3fae45" stroke="#1b1b1b" stroke-width="0.7"/>
<line x1="399.30" y1="104.4" x2="399.30" y2="116.3" stroke="#2a2a2a" stroke-width="1"/>
<rect x="397.75" y="108.3" width="3.1" height="2.2" fill="#3fae45" stroke="#1b1b1b" stroke-width="0.7"/>
<line x1="403.86" y1="89.8" x2="403.86" y2="109.5" stroke="#2a2a2a" stroke-width="1"/>
<rect x="402.31" y="90.8" width="3.1" height="18.1" fill="#3fae45" stroke="#1b1b1b" stroke-width="0.7"/>
<line x1="408.43" y1="89.2" x2="408.43" y2="100.9" stroke="#2a2a2a" stroke-width="1"/>
<line x1="406.53" y1="94.7" x2="410.33" y2="94.7" stroke="#1b1b1b" stroke-width="1.1"/>
<line x1="413.00" y1="91.0" x2="413.00" y2="105.8" stroke="#2a2a2a" stroke-width="1"/>
<rect x="411.45" y="99.4" width="3.1" height="5.8" fill="#f0323f" stroke="#1b1b1b" stroke-width="0.7"/>
<line x1="417.56" y1="95.4" x2="417.56" y2="116.9" stroke="#2a2a2a" stroke-width="1"/>
<rect x="416.01" y="104.0" width="3.1" height="11.5" fill="#f0323f" stroke="#1b1b1b" stroke-width="0.7"/>
<line x1="422.13" y1="101.9" x2="422.13" y2="120.6" stroke="#2a2a2a" stroke-width="1"/>
<rect x="420.58" y="110.8" width="3.1" height="3.7" fill="#3fae45" stroke="#1b1b1b" stroke-width="0.7"/>
<line x1="426.70" y1="109.3" x2="426.70" y2="134.6" stroke="#2a2a2a" stroke-width="1"/>
<rect x="425.15" y="109.8" width="3.1" height="13.5" fill="#f0323f" stroke="#1b1b1b" stroke-width="0.7"/>
<line x1="431.26" y1="106.8" x2="431.26" y2="125.6" stroke="#2a2a2a" stroke-width="1"/>
<rect x="429.71" y="117.6" width="3.1" height="7.4" fill="#3fae45" stroke="#1b1b1b" stroke-width="0.7"/>
<line x1="435.83" y1="107.7" x2="435.83" y2="120.0" stroke="#2a2a2a" stroke-width="1"/>
<rect x="434.28" y="112.2" width="3.1" height="2.3" fill="#3fae45" stroke="#1b1b1b" stroke-width="0.7"/>
<line x1="440.40" y1="100.7" x2="440.40" y2="117.5" stroke="#2a2a2a" stroke-width="1"/>
<rect x="438.85" y="101.5" width="3.1" height="9.0" fill="#3fae45" stroke="#1b1b1b" stroke-width="0.7"/>
<line x1="444.97" y1="85.9" x2="444.97" y2="103.5" stroke="#2a2a2a" stroke-width="1"/>
<rect x="443.42" y="86.5" width="3.1" height="15.8" fill="#3fae45" stroke="#1b1b1b" stroke-width="0.7"/>
<line x1="449.53" y1="79.0" x2="449.53" y2="91.0" stroke="#2a2a2a" stroke-width="1"/>
<rect x="447.98" y="88.1" width="3.1" height="2.6" fill="#f0323f" stroke="#1b1b1b" stroke-width="0.7"/>
<line x1="454.10" y1="87.5" x2="454.10" y2="102.3" stroke="#2a2a2a" stroke-width="1"/>
<rect x="452.55" y="89.1" width="3.1" height="9.5" fill="#f0323f" stroke="#1b1b1b" stroke-width="0.7"/>
<line x1="458.67" y1="91.2" x2="458.67" y2="115.4" stroke="#2a2a2a" stroke-width="1"/>
<rect x="457.12" y="95.3" width="3.1" height="17.6" fill="#f0323f" stroke="#1b1b1b" stroke-width="0.7"/>
<line x1="463.23" y1="109.7" x2="463.23" y2="120.7" stroke="#2a2a2a" stroke-width="1"/>
<rect x="461.68" y="112.9" width="3.1" height="4.0" fill="#f0323f" stroke="#1b1b1b" stroke-width="0.7"/>
<line x1="467.80" y1="110.1" x2="467.80" y2="143.6" stroke="#2a2a2a" stroke-width="1"/>
<rect x="466.25" y="115.8" width="3.1" height="25.3" fill="#f0323f" stroke="#1b1b1b" stroke-width="0.7"/>
<line x1="472.37" y1="127.3" x2="472.37" y2="144.6" stroke="#2a2a2a" stroke-width="1"/>
<rect x="470.82" y="141.1" width="3.1" height="2.9" fill="#f0323f" stroke="#1b1b1b" stroke-width="0.7"/>
<line x1="476.93" y1="121.8" x2="476.93" y2="145.6" stroke="#2a2a2a" stroke-width="1"/>
<rect x="475.38" y="129.8" width="3.1" height="13.3" fill="#3fae45" stroke="#1b1b1b" stroke-width="0.7"/>
<line x1="481.50" y1="122.4" x2="481.50" y2="132.3" stroke="#2a2a2a" stroke-width="1"/>
<line x1="479.60" y1="130.8" x2="483.40" y2="130.8" stroke="#1b1b1b" stroke-width="1.1"/>
<line x1="486.07" y1="126.1" x2="486.07" y2="135.7" stroke="#2a2a2a" stroke-width="1"/>
<line x1="484.17" y1="128.8" x2="487.97" y2="128.8" stroke="#1b1b1b" stroke-width="1.1"/>
<line x1="490.64" y1="116.6" x2="490.64" y2="130.8" stroke="#2a2a2a" stroke-width="1"/>
<rect x="489.09" y="118.1" width="3.1" height="12.3" fill="#3fae45" stroke="#1b1b1b" stroke-width="0.7"/>
<line x1="495.20" y1="105.8" x2="495.20" y2="121.8" stroke="#2a2a2a" stroke-width="1"/>
<rect x="493.65" y="112.2" width="3.1" height="6.1" fill="#3fae45" stroke="#1b1b1b" stroke-width="0.7"/>
<line x1="499.77" y1="108.0" x2="499.77" y2="115.9" stroke="#2a2a2a" stroke-width="1"/>
<rect x="498.22" y="112.9" width="3.1" height="1.5" fill="#3fae45" stroke="#1b1b1b" stroke-width="0.7"/>
<line x1="504.34" y1="110.5" x2="504.34" y2="119.1" stroke="#2a2a2a" stroke-width="1"/>
<rect x="502.79" y="112.2" width="3.1" height="3.2" fill="#f0323f" stroke="#1b1b1b" stroke-width="0.7"/>
<line x1="508.90" y1="106.4" x2="508.90" y2="125.2" stroke="#2a2a2a" stroke-width="1"/>
<rect x="507.35" y="109.7" width="3.1" height="6.9" fill="#3fae45" stroke="#1b1b1b" stroke-width="0.7"/>
<line x1="513.47" y1="99.0" x2="513.47" y2="113.8" stroke="#2a2a2a" stroke-width="1"/>
<rect x="511.92" y="104.5" width="3.1" height="6.8" fill="#3fae45" stroke="#1b1b1b" stroke-width="0.7"/>
<line x1="518.04" y1="97.4" x2="518.04" y2="124.2" stroke="#2a2a2a" stroke-width="1"/>
<rect x="516.49" y="105.5" width="3.1" height="15.9" fill="#f0323f" stroke="#1b1b1b" stroke-width="0.7"/>
<line x1="522.60" y1="111.9" x2="522.60" y2="123.0" stroke="#2a2a2a" stroke-width="1"/>
<rect x="521.05" y="117.1" width="3.1" height="5.3" fill="#3fae45" stroke="#1b1b1b" stroke-width="0.7"/>
<line x1="527.17" y1="112.2" x2="527.17" y2="124.9" stroke="#2a2a2a" stroke-width="1"/>
<rect x="525.62" y="116.6" width="3.1" height="5.2" fill="#f0323f" stroke="#1b1b1b" stroke-width="0.7"/>
<line x1="531.74" y1="120.0" x2="531.74" y2="135.7" stroke="#2a2a2a" stroke-width="1"/>
<rect x="530.19" y="120.6" width="3.1" height="14.4" fill="#f0323f" stroke="#1b1b1b" stroke-width="0.7"/>
<line x1="536.31" y1="132.3" x2="536.31" y2="144.0" stroke="#2a2a2a" stroke-width="1"/>
<rect x="534.76" y="132.9" width="3.1" height="8.6" fill="#f0323f" stroke="#1b1b1b" stroke-width="0.7"/>
<line x1="540.87" y1="140.3" x2="540.87" y2="147.3" stroke="#2a2a2a" stroke-width="1"/>
<rect x="539.32" y="142.8" width="3.1" height="2.8" fill="#f0323f" stroke="#1b1b1b" stroke-width="0.7"/>
<line x1="545.44" y1="119.3" x2="545.44" y2="147.3" stroke="#2a2a2a" stroke-width="1"/>
<rect x="543.89" y="122.7" width="3.1" height="21.9" fill="#3fae45" stroke="#1b1b1b" stroke-width="0.7"/>
<line x1="550.01" y1="118.1" x2="550.01" y2="128.0" stroke="#2a2a2a" stroke-width="1"/>
<rect x="548.46" y="122.4" width="3.1" height="2.5" fill="#f0323f" stroke="#1b1b1b" stroke-width="0.7"/>
<line x1="554.57" y1="118.9" x2="554.57" y2="128.8" stroke="#2a2a2a" stroke-width="1"/>
<rect x="553.02" y="121.2" width="3.1" height="5.1" fill="#3fae45" stroke="#1b1b1b" stroke-width="0.7"/>
<line x1="559.14" y1="115.2" x2="559.14" y2="131.4" stroke="#2a2a2a" stroke-width="1"/>
<rect x="557.59" y="118.2" width="3.1" height="4.6" fill="#3fae45" stroke="#1b1b1b" stroke-width="0.7"/>
<line x1="563.71" y1="108.0" x2="563.71" y2="119.0" stroke="#2a2a2a" stroke-width="1"/>
<rect x="562.16" y="109.2" width="3.1" height="9.2" fill="#3fae45" stroke="#1b1b1b" stroke-width="0.7"/>
<line x1="568.27" y1="103.9" x2="568.27" y2="111.7" stroke="#2a2a2a" stroke-width="1"/>
<rect x="566.72" y="106.7" width="3.1" height="4.3" fill="#3fae45" stroke="#1b1b1b" stroke-width="0.7"/>
<line x1="572.84" y1="100.2" x2="572.84" y2="107.3" stroke="#2a2a2a" stroke-width="1"/>
<rect x="571.29" y="102.4" width="3.1" height="2.2" fill="#3fae45" stroke="#1b1b1b" stroke-width="0.7"/>
<line x1="577.41" y1="101.2" x2="577.41" y2="124.6" stroke="#2a2a2a" stroke-width="1"/>
<rect x="575.86" y="103.0" width="3.1" height="9.9" fill="#f0323f" stroke="#1b1b1b" stroke-width="0.7"/>
<line x1="581.98" y1="101.8" x2="581.98" y2="118.4" stroke="#2a2a2a" stroke-width="1"/>
<rect x="580.43" y="105.1" width="3.1" height="8.4" fill="#3fae45" stroke="#1b1b1b" stroke-width="0.7"/>
<line x1="586.54" y1="103.6" x2="586.54" y2="118.4" stroke="#2a2a2a" stroke-width="1"/>
<rect x="584.99" y="106.7" width="3.1" height="6.8" fill="#f0323f" stroke="#1b1b1b" stroke-width="0.7"/>
<line x1="591.11" y1="90.6" x2="591.11" y2="115.7" stroke="#2a2a2a" stroke-width="1"/>
<rect x="589.56" y="101.2" width="3.1" height="14.2" fill="#3fae45" stroke="#1b1b1b" stroke-width="0.7"/>
<line x1="595.68" y1="87.6" x2="595.68" y2="103.6" stroke="#2a2a2a" stroke-width="1"/>
<rect x="594.13" y="90.0" width="3.1" height="13.0" fill="#3fae45" stroke="#1b1b1b" stroke-width="0.7"/>
<line x1="600.24" y1="80.8" x2="600.24" y2="93.1" stroke="#2a2a2a" stroke-width="1"/>
<rect x="598.69" y="90.9" width="3.1" height="1.6" fill="#f0323f" stroke="#1b1b1b" stroke-width="0.7"/>
<line x1="604.81" y1="76.1" x2="604.81" y2="93.1" stroke="#2a2a2a" stroke-width="1"/>
<rect x="603.26" y="83.5" width="3.1" height="8.1" fill="#3fae45" stroke="#1b1b1b" stroke-width="0.7"/>
<line x1="609.38" y1="66.2" x2="609.38" y2="90.6" stroke="#2a2a2a" stroke-width="1"/>
<rect x="607.83" y="68.2" width="3.1" height="13.2" fill="#3fae45" stroke="#1b1b1b" stroke-width="0.7"/>
<line x1="613.94" y1="65.4" x2="613.94" y2="77.3" stroke="#2a2a2a" stroke-width="1"/>
<rect x="612.39" y="69.1" width="3.1" height="2.8" fill="#f0323f" stroke="#1b1b1b" stroke-width="0.7"/>
<line x1="618.51" y1="63.5" x2="618.51" y2="75.8" stroke="#2a2a2a" stroke-width="1"/>
<rect x="616.96" y="65.0" width="3.1" height="9.4" fill="#3fae45" stroke="#1b1b1b" stroke-width="0.7"/>
<line x1="623.08" y1="59.6" x2="623.08" y2="67.2" stroke="#2a2a2a" stroke-width="1"/>
<rect x="621.53" y="60.4" width="3.1" height="5.0" fill="#3fae45" stroke="#1b1b1b" stroke-width="0.7"/>
<line x1="627.65" y1="53.4" x2="627.65" y2="73.6" stroke="#2a2a2a" stroke-width="1"/>
<rect x="626.10" y="61.3" width="3.1" height="9.0" fill="#f0323f" stroke="#1b1b1b" stroke-width="0.7"/>
<line x1="632.21" y1="67.8" x2="632.21" y2="84.5" stroke="#2a2a2a" stroke-width="1"/>
<rect x="630.66" y="71.9" width="3.1" height="11.6" fill="#f0323f" stroke="#1b1b1b" stroke-width="0.7"/>
<line x1="636.78" y1="80.8" x2="636.78" y2="90.9" stroke="#2a2a2a" stroke-width="1"/>
<rect x="635.23" y="82.6" width="3.1" height="7.4" fill="#f0323f" stroke="#1b1b1b" stroke-width="0.7"/>
<line x1="641.35" y1="86.3" x2="641.35" y2="95.0" stroke="#2a2a2a" stroke-width="1"/>
<rect x="639.80" y="87.6" width="3.1" height="1.8" fill="#3fae45" stroke="#1b1b1b" stroke-width="0.7"/>
<line x1="645.91" y1="82.0" x2="645.91" y2="92.5" stroke="#2a2a2a" stroke-width="1"/>
<line x1="644.01" y1="87.6" x2="647.81" y2="87.6" stroke="#1b1b1b" stroke-width="1.1"/>
<line x1="650.48" y1="78.3" x2="650.48" y2="94.3" stroke="#2a2a2a" stroke-width="1"/>
<rect x="648.93" y="88.4" width="3.1" height="4.7" fill="#f0323f" stroke="#1b1b1b" stroke-width="0.7"/>
<line x1="655.05" y1="85.9" x2="655.05" y2="110.8" stroke="#2a2a2a" stroke-width="1"/>
<rect x="653.50" y="92.5" width="3.1" height="14.2" fill="#f0323f" stroke="#1b1b1b" stroke-width="0.7"/>
<line x1="659.61" y1="103.0" x2="659.61" y2="112.3" stroke="#2a2a2a" stroke-width="1"/>
<rect x="658.06" y="104.2" width="3.1" height="4.4" fill="#3fae45" stroke="#1b1b1b" stroke-width="0.7"/>
<line x1="664.18" y1="93.5" x2="664.18" y2="104.3" stroke="#2a2a2a" stroke-width="1"/>
<rect x="662.63" y="94.5" width="3.1" height="9.0" fill="#3fae45" stroke="#1b1b1b" stroke-width="0.7"/>
<line x1="668.75" y1="78.4" x2="668.75" y2="96.2" stroke="#2a2a2a" stroke-width="1"/>
<rect x="667.20" y="83.4" width="3.1" height="11.1" fill="#3fae45" stroke="#1b1b1b" stroke-width="0.7"/>
<line x1="673.32" y1="77.6" x2="673.32" y2="90.4" stroke="#2a2a2a" stroke-width="1"/>
<line x1="671.42" y1="83.3" x2="675.22" y2="83.3" stroke="#1b1b1b" stroke-width="1.1"/>
<line x1="677.88" y1="79.3" x2="677.88" y2="94.1" stroke="#2a2a2a" stroke-width="1"/>
<rect x="676.33" y="83.3" width="3.1" height="5.2" fill="#f0323f" stroke="#1b1b1b" stroke-width="0.7"/>
<line x1="682.45" y1="83.3" x2="682.45" y2="90.4" stroke="#2a2a2a" stroke-width="1"/>
<rect x="680.90" y="87.3" width="3.1" height="2.2" fill="#3fae45" stroke="#1b1b1b" stroke-width="0.7"/>
<line x1="687.02" y1="80.9" x2="687.02" y2="92.8" stroke="#2a2a2a" stroke-width="1"/>
<rect x="685.47" y="81.3" width="3.1" height="11.1" fill="#3fae45" stroke="#1b1b1b" stroke-width="0.7"/>
<line x1="691.58" y1="79.3" x2="691.58" y2="94.1" stroke="#2a2a2a" stroke-width="1"/>
<rect x="690.03" y="81.7" width="3.1" height="12.0" fill="#f0323f" stroke="#1b1b1b" stroke-width="0.7"/>
<line x1="696.15" y1="91.0" x2="696.15" y2="100.8" stroke="#2a2a2a" stroke-width="1"/>
<rect x="694.60" y="91.6" width="3.1" height="1.6" fill="#3fae45" stroke="#1b1b1b" stroke-width="0.7"/>
<line x1="700.72" y1="83.0" x2="700.72" y2="106.4" stroke="#2a2a2a" stroke-width="1"/>
<rect x="699.17" y="93.2" width="3.1" height="9.1" fill="#f0323f" stroke="#1b1b1b" stroke-width="0.7"/>
<line x1="705.28" y1="96.1" x2="705.28" y2="128.7" stroke="#2a2a2a" stroke-width="1"/>
<rect x="703.73" y="101.8" width="3.1" height="26.4" fill="#f0323f" stroke="#1b1b1b" stroke-width="0.7"/>
<line x1="709.85" y1="109.2" x2="709.85" y2="122.3" stroke="#2a2a2a" stroke-width="1"/>
<rect x="708.30" y="115.4" width="3.1" height="2.9" fill="#3fae45" stroke="#1b1b1b" stroke-width="0.7"/>
<line x1="714.42" y1="113.2" x2="714.42" y2="138.5" stroke="#2a2a2a" stroke-width="1"/>
<rect x="712.87" y="114.3" width="3.1" height="9.9" fill="#f0323f" stroke="#1b1b1b" stroke-width="0.7"/>
<line x1="718.99" y1="112.3" x2="718.99" y2="125.0" stroke="#2a2a2a" stroke-width="1"/>
<rect x="717.44" y="116.0" width="3.1" height="8.2" fill="#3fae45" stroke="#1b1b1b" stroke-width="0.7"/>
<line x1="723.55" y1="114.6" x2="723.55" y2="127.8" stroke="#2a2a2a" stroke-width="1"/>
<rect x="722.00" y="118.3" width="3.1" height="6.7" fill="#f0323f" stroke="#1b1b1b" stroke-width="0.7"/>
<line x1="728.12" y1="119.2" x2="728.12" y2="137.3" stroke="#2a2a2a" stroke-width="1"/>
<rect x="726.57" y="121.6" width="3.1" height="3.5" fill="#3fae45" stroke="#1b1b1b" stroke-width="0.7"/>
<line x1="732.69" y1="113.0" x2="732.69" y2="124.2" stroke="#2a2a2a" stroke-width="1"/>
<rect x="731.14" y="115.4" width="3.1" height="6.7" fill="#3fae45" stroke="#1b1b1b" stroke-width="0.7"/>
<line x1="737.25" y1="111.2" x2="737.25" y2="127.8" stroke="#2a2a2a" stroke-width="1"/>
<rect x="735.70" y="115.4" width="3.1" height="7.9" fill="#f0323f" stroke="#1b1b1b" stroke-width="0.7"/>
<line x1="741.82" y1="116.2" x2="741.82" y2="125.9" stroke="#2a2a2a" stroke-width="1"/>
<line x1="739.92" y1="123.4" x2="743.72" y2="123.4" stroke="#1b1b1b" stroke-width="1.1"/>
<line x1="746.39" y1="113.7" x2="746.39" y2="125.6" stroke="#2a2a2a" stroke-width="1"/>
<rect x="744.84" y="115.4" width="3.1" height="7.9" fill="#3fae45" stroke="#1b1b1b" stroke-width="0.7"/>
<line x1="750.95" y1="110.5" x2="750.95" y2="121.6" stroke="#2a2a2a" stroke-width="1"/>
<rect x="749.40" y="115.4" width="3.1" height="1.2" fill="#3fae45" stroke="#1b1b1b" stroke-width="0.7"/>
<line x1="755.52" y1="100.6" x2="755.52" y2="110.1" stroke="#2a2a2a" stroke-width="1"/>
<rect x="753.97" y="101.5" width="3.1" height="5.5" fill="#3fae45" stroke="#1b1b1b" stroke-width="0.7"/>
<line x1="760.09" y1="90.0" x2="760.09" y2="104.5" stroke="#2a2a2a" stroke-width="1"/>
<rect x="758.54" y="92.2" width="3.1" height="10.9" fill="#3fae45" stroke="#1b1b1b" stroke-width="0.7"/>
<line x1="764.66" y1="81.3" x2="764.66" y2="100.8" stroke="#2a2a2a" stroke-width="1"/>
<rect x="763.11" y="93.2" width="3.1" height="2.1" fill="#f0323f" stroke="#1b1b1b" stroke-width="0.7"/>
<line x1="769.22" y1="87.5" x2="769.22" y2="108.5" stroke="#2a2a2a" stroke-width="1"/>
<rect x="767.67" y="96.9" width="3.1" height="5.3" fill="#f0323f" stroke="#1b1b1b" stroke-width="0.7"/>
<line x1="773.79" y1="99.8" x2="773.79" y2="108.6" stroke="#2a2a2a" stroke-width="1"/>
<rect x="772.24" y="102.2" width="3.1" height="3.2" fill="#f0323f" stroke="#1b1b1b" stroke-width="0.7"/>
<line x1="778.36" y1="99.2" x2="778.36" y2="113.6" stroke="#2a2a2a" stroke-width="1"/>
<rect x="776.81" y="105.5" width="3.1" height="1.9" fill="#f0323f" stroke="#1b1b1b" stroke-width="0.7"/>
<line x1="782.92" y1="106.7" x2="782.92" y2="125.0" stroke="#2a2a2a" stroke-width="1"/>
<rect x="781.37" y="108.0" width="3.1" height="15.5" fill="#f0323f" stroke="#1b1b1b" stroke-width="0.7"/>
<line x1="787.49" y1="115.8" x2="787.49" y2="132.8" stroke="#2a2a2a" stroke-width="1"/>
<rect x="785.94" y="117.3" width="3.1" height="6.0" fill="#3fae45" stroke="#1b1b1b" stroke-width="0.7"/>
<line x1="792.06" y1="113.4" x2="792.06" y2="131.5" stroke="#2a2a2a" stroke-width="1"/>
<rect x="790.51" y="118.3" width="3.1" height="8.3" fill="#f0323f" stroke="#1b1b1b" stroke-width="0.7"/>
<line x1="796.62" y1="119.8" x2="796.62" y2="129.7" stroke="#2a2a2a" stroke-width="1"/>
<rect x="795.07" y="122.3" width="3.1" height="3.4" fill="#3fae45" stroke="#1b1b1b" stroke-width="0.7"/>
<line x1="801.19" y1="106.9" x2="801.19" y2="122.3" stroke="#2a2a2a" stroke-width="1"/>
<rect x="799.64" y="108.0" width="3.1" height="12.7" fill="#3fae45" stroke="#1b1b1b" stroke-width="0.7"/>
<line x1="805.76" y1="107.9" x2="805.76" y2="114.2" stroke="#2a2a2a" stroke-width="1"/>
<rect x="804.21" y="109.0" width="3.1" height="1.9" fill="#f0323f" stroke="#1b1b1b" stroke-width="0.7"/>
<line x1="810.33" y1="103.5" x2="810.33" y2="113.5" stroke="#2a2a2a" stroke-width="1"/>
<rect x="808.78" y="106.2" width="3.1" height="6.2" fill="#3fae45" stroke="#1b1b1b" stroke-width="0.7"/>
<line x1="814.89" y1="93.6" x2="814.89" y2="111.5" stroke="#2a2a2a" stroke-width="1"/>
<rect x="813.34" y="106.9" width="3.1" height="3.1" fill="#f0323f" stroke="#1b1b1b" stroke-width="0.7"/>
<line x1="819.46" y1="103.0" x2="819.46" y2="117.5" stroke="#2a2a2a" stroke-width="1"/>
<rect x="817.91" y="108.3" width="3.1" height="1.4" fill="#3fae45" stroke="#1b1b1b" stroke-width="0.7"/>
<line x1="824.03" y1="107.2" x2="824.03" y2="125.4" stroke="#2a2a2a" stroke-width="1"/>
<rect x="822.48" y="108.0" width="3.1" height="14.3" fill="#f0323f" stroke="#1b1b1b" stroke-width="0.7"/>
<line x1="828.59" y1="113.3" x2="828.59" y2="130.7" stroke="#2a2a2a" stroke-width="1"/>
<rect x="827.04" y="117.3" width="3.1" height="5.0" fill="#3fae45" stroke="#1b1b1b" stroke-width="0.7"/>
<line x1="833.16" y1="116.1" x2="833.16" y2="134.8" stroke="#2a2a2a" stroke-width="1"/>
<rect x="831.61" y="117.3" width="3.1" height="9.3" fill="#f0323f" stroke="#1b1b1b" stroke-width="0.7"/>
<line x1="837.73" y1="118.8" x2="837.73" y2="139.8" stroke="#2a2a2a" stroke-width="1"/>
<rect x="836.18" y="128.2" width="3.1" height="11.3" fill="#f0323f" stroke="#1b1b1b" stroke-width="0.7"/>
<line x1="842.29" y1="133.1" x2="842.29" y2="145.1" stroke="#2a2a2a" stroke-width="1"/>
<rect x="840.74" y="134.0" width="3.1" height="4.5" fill="#3fae45" stroke="#1b1b1b" stroke-width="0.7"/>
<line x1="846.86" y1="129.7" x2="846.86" y2="138.1" stroke="#2a2a2a" stroke-width="1"/>
<rect x="845.31" y="130.7" width="3.1" height="1.7" fill="#3fae45" stroke="#1b1b1b" stroke-width="0.7"/>
<line x1="851.43" y1="127.4" x2="851.43" y2="139.5" stroke="#2a2a2a" stroke-width="1"/>
<rect x="849.88" y="129.4" width="3.1" height="2.5" fill="#3fae45" stroke="#1b1b1b" stroke-width="0.7"/>
<line x1="856.00" y1="113.0" x2="856.00" y2="130.6" stroke="#2a2a2a" stroke-width="1"/>
<rect x="854.45" y="113.6" width="3.1" height="16.7" fill="#3fae45" stroke="#1b1b1b" stroke-width="0.7"/>
<line x1="860.56" y1="106.6" x2="860.56" y2="115.0" stroke="#2a2a2a" stroke-width="1"/>
<rect x="859.01" y="108.3" width="3.1" height="5.9" fill="#3fae45" stroke="#1b1b1b" stroke-width="0.7"/>
<line x1="865.13" y1="100.2" x2="865.13" y2="112.6" stroke="#2a2a2a" stroke-width="1"/>
<rect x="863.58" y="103.9" width="3.1" height="5.3" fill="#3fae45" stroke="#1b1b1b" stroke-width="0.7"/>
<line x1="869.70" y1="98.1" x2="869.70" y2="107.0" stroke="#2a2a2a" stroke-width="1"/>
<rect x="868.15" y="105.1" width="3.1" height="1.6" fill="#3fae45" stroke="#1b1b1b" stroke-width="0.7"/>
<line x1="874.26" y1="96.8" x2="874.26" y2="106.9" stroke="#2a2a2a" stroke-width="1"/>
<rect x="872.71" y="98.1" width="3.1" height="7.6" fill="#3fae45" stroke="#1b1b1b" stroke-width="0.7"/>
<line x1="878.83" y1="87.0" x2="878.83" y2="102.6" stroke="#2a2a2a" stroke-width="1"/>
<rect x="877.28" y="87.4" width="3.1" height="11.9" fill="#3fae45" stroke="#1b1b1b" stroke-width="0.7"/>
<line x1="883.40" y1="79.2" x2="883.40" y2="88.2" stroke="#2a2a2a" stroke-width="1"/>
<rect x="881.85" y="84.1" width="3.1" height="3.7" fill="#3fae45" stroke="#1b1b1b" stroke-width="0.7"/>
<line x1="887.96" y1="71.7" x2="887.96" y2="85.4" stroke="#2a2a2a" stroke-width="1"/>
<rect x="886.41" y="74.0" width="3.1" height="9.8" fill="#3fae45" stroke="#1b1b1b" stroke-width="0.7"/>
<rect x="8" y="352" width="912.3" height="34.9" fill="#7e57c2" fill-opacity="0.1"/>
<line x1="8.2" y1="352" x2="920.3" y2="352" stroke="#9c9ea6" stroke-width="1.5" stroke-dasharray="3.7 4.65"/>
<line x1="8.2" y1="386.9" x2="920.3" y2="386.9" stroke="#9c9ea6" stroke-width="1.5" stroke-dasharray="3.7 4.65"/>
<line x1="8.2" y1="369.5" x2="920.3" y2="369.5" stroke="#b3b5bc" stroke-width="1" stroke-dasharray="3.7 4.65"/>
<path d="M7.9 369.3 C9.9 369.4 15.5 370.2 19.7 370.1 C23.9 370.0 29.0 369.3 32.9 368.8 C36.8 368.3 39.2 367.2 42.8 367.1 C46.4 367.0 50.5 367.8 54.3 368.0 C58.1 368.2 62.2 368.0 65.8 368.3 C69.4 368.6 72.4 369.3 75.7 369.6 C79.0 369.9 82.8 369.3 85.5 369.9 C88.2 370.4 89.9 372.1 92.1 372.9 C94.3 373.7 96.2 374.6 98.7 374.9 C101.2 375.2 103.6 375.1 106.9 374.9 C110.2 374.7 114.3 374.2 118.4 373.7 C122.5 373.1 127.5 372.2 131.6 371.6 C135.7 371.0 140.0 370.5 143.1 370.1 C146.2 369.7 147.8 370.0 150.0 369.3 C152.2 368.6 154.4 367.0 156.6 366.0 C158.8 365.0 160.7 364.0 163.2 363.4 C165.7 362.8 168.7 362.8 171.4 362.5 C174.1 362.2 176.7 362.1 179.6 361.9 C182.5 361.7 185.7 361.3 188.7 361.4 C191.7 361.4 194.5 361.9 197.7 362.2 C200.8 362.5 204.0 362.7 207.6 363.0 C211.2 363.3 215.0 363.6 219.1 363.8 C223.2 364.0 227.8 364.1 232.2 364.3 C236.6 364.5 241.3 364.9 245.4 365.2 C249.5 365.4 253.1 365.7 256.9 365.8 C260.7 365.9 264.3 365.9 268.4 365.8 C272.5 365.8 277.5 365.7 281.6 365.5 C285.7 365.3 289.3 364.9 293.1 364.7 C296.9 364.5 300.7 364.3 304.6 364.2 C308.5 364.1 311.7 363.8 316.4 363.8 C321.1 363.8 327.4 364.0 332.9 364.2 C338.4 364.4 343.8 365.0 349.3 365.2 C354.8 365.4 360.3 365.3 365.8 365.2 C371.3 365.1 376.7 364.4 382.2 364.3 C387.7 364.2 393.8 364.5 398.7 364.3 C403.6 364.1 407.7 363.4 411.8 363.4 C415.9 363.4 419.5 363.7 423.4 364.2 C427.2 364.7 430.8 365.9 434.9 366.3 C439.0 366.7 443.8 366.5 448.0 366.6 C452.2 366.7 456.0 366.6 459.9 367.1 C463.8 367.6 467.6 369.1 471.4 369.6 C475.2 370.2 478.2 370.3 482.9 370.4 C487.5 370.4 493.8 369.8 499.3 369.9 C504.8 370.0 510.3 370.6 515.8 370.8 C521.3 371.0 526.7 371.3 532.2 371.3 C537.7 371.3 543.2 371.0 548.7 370.9 C554.2 370.8 560.2 370.6 565.1 370.4 C570.0 370.2 574.2 370.2 578.3 369.9 C582.4 369.6 586.0 369.4 589.8 368.8 C593.6 368.2 597.9 367.0 601.3 366.0 C604.6 365.0 606.8 363.9 609.9 363.0 C613.0 362.1 617.0 361.2 619.7 360.6 C622.4 360.1 623.5 359.8 626.3 359.7 C629.0 359.6 632.4 360.0 636.2 360.1 C640.0 360.2 644.9 359.9 649.3 360.2 C653.7 360.5 658.4 361.6 662.5 362.2 C666.6 362.8 670.2 363.1 674.0 363.8 C677.8 364.5 681.4 365.6 685.5 366.3 C689.6 367.1 694.3 367.6 698.7 368.3 C703.1 369.0 707.7 369.9 711.8 370.4 C715.9 370.9 719.3 370.9 723.4 371.3 C727.5 371.7 732.4 372.3 736.5 372.9 C740.6 373.5 744.8 374.5 748.0 374.9 C751.2 375.2 753.5 375.2 756.0 375.0 C758.5 374.8 760.1 374.2 763.2 373.7 C766.3 373.2 770.1 372.5 774.7 372.1 C779.4 371.7 785.6 371.6 791.1 371.3 C796.6 371.0 802.9 370.7 807.6 370.4 C812.3 370.1 815.0 369.3 819.1 369.6 C823.2 369.9 828.4 371.5 832.2 372.1 C836.0 372.7 838.8 373.2 842.1 373.4 C845.4 373.6 848.2 373.7 852.0 373.4 C855.8 373.1 861.3 372.0 865.1 371.6 C868.9 371.2 872.2 371.1 875.0 370.8 C877.8 370.5 879.5 370.1 881.6 369.6 C883.7 369.1 886.8 368.1 887.8 367.8" fill="none" stroke="#fdd835" stroke-width="1.2" stroke-linejoin="round" stroke-linecap="round" opacity="0.85"/>
<path d="M7.9 368.0 L11.1 366.0 L15.7 370.8 L20.2 365.5 L24.8 360.1 L29.4 363.0 L33.9 363.5 L38.5 369.6 L43.1 372.9 L47.6 371.3 L52.2 369.3 L56.8 370.4 L61.3 369.3 L65.9 371.3 L70.5 375.9 L75.0 372.1 L79.6 368.8 L84.2 365.5 L88.7 386.9 L93.3 389.0 L97.9 390.2 L102.4 373.7 L107.0 369.3 L111.6 366.0 L116.1 364.2 L120.7 362.7 L125.3 361.4 L129.8 360.6 L134.4 361.7 L139.0 359.4 L143.5 363.4 L148.1 364.3 L152.7 361.1 L157.2 362.2 L161.8 360.1 L166.4 364.3 L170.9 363.0 L175.5 365.0 L180.1 360.6 L184.6 358.9 L189.2 356.9 L193.8 363.8 L198.3 366.3 L202.9 365.5 L207.5 369.3 L212.0 361.7 L216.6 365.0 L221.2 367.1 L225.7 367.1 L230.3 363.5 L234.9 366.3 L239.5 365.0 L244.0 367.6 L248.6 361.1 L253.2 362.2 L257.7 366.0 L262.3 368.0 L266.9 366.3 L271.4 367.6 L276.0 361.9 L280.6 365.5 L285.1 363.0 L289.7 361.7 L294.3 363.4 L298.8 361.4 L303.4 360.9 L308.0 363.2 L312.5 360.6 L317.1 366.0 L321.7 363.0 L326.2 368.0 L330.8 365.0 L335.4 368.3 L339.9 371.3 L344.5 369.6 L349.1 367.1 L353.6 364.3 L358.2 361.4 L362.8 363.4 L367.3 358.9 L371.9 358.6 L376.5 358.6 L381.0 360.6 L385.6 363.4 L390.2 371.3 L394.7 366.6 L399.3 366.0 L403.9 360.6 L408.4 362.2 L413.0 366.3 L417.6 370.1 L422.1 368.8 L426.7 372.9 L431.3 370.4 L435.8 368.8 L440.4 364.7 L445.0 360.2 L449.5 362.2 L454.1 366.0 L458.7 370.6 L463.2 372.1 L467.8 378.7 L472.4 379.5 L476.9 374.2 L481.5 374.0 L486.1 373.2 L490.6 369.3 L495.2 367.1 L499.8 367.5 L504.3 369.3 L508.9 366.6 L513.5 364.3 L518.0 371.3 L522.6 369.6 L527.2 371.7 L531.7 375.9 L536.3 378.2 L540.9 379.8 L545.4 369.6 L550.0 370.9 L554.6 369.3 L559.1 367.5 L563.7 364.3 L568.3 363.4 L572.8 361.4 L577.4 366.3 L582.0 363.8 L586.5 367.6 L591.1 363.0 L595.7 358.9 L600.2 360.4 L604.8 357.1 L609.4 353.2 L613.9 355.1 L618.5 352.8 L623.1 352.3 L627.6 358.9 L632.2 364.3 L636.8 366.6 L641.3 365.8 L645.9 366.0 L650.5 368.8 L655.0 374.2 L659.6 373.2 L664.2 368.8 L668.7 364.2 L673.3 363.8 L677.9 366.3 L682.4 365.5 L687.0 363.8 L691.6 369.3 L696.2 368.8 L700.7 373.7 L705.3 382.4 L709.9 376.2 L714.4 378.7 L719.0 375.0 L723.6 377.8 L728.1 376.5 L732.7 374.0 L737.3 376.5 L741.8 376.2 L746.4 372.6 L751.0 372.4 L755.5 366.3 L760.1 362.3 L764.7 364.3 L769.2 367.6 L773.8 369.3 L778.4 370.4 L782.9 376.5 L787.5 373.7 L792.1 377.3 L796.6 374.5 L801.2 368.3 L805.8 369.9 L810.3 367.5 L814.9 369.3 L819.5 368.5 L824.0 374.5 L828.6 372.1 L833.2 376.2 L837.7 380.3 L842.3 377.5 L846.9 375.9 L851.4 374.9 L856.0 367.1 L860.6 364.7 L865.1 363.0 L869.7 364.3 L874.3 360.6 L878.8 356.8 L883.4 356.0 L888.0 352.6" fill="none" stroke="#9472d2" stroke-width="1.25" stroke-linejoin="round" stroke-linecap="round" opacity="0.9"/>
<text x="927" y="27.8" font-size="9.9" fill="#131722" stroke="#131722" stroke-width="0.12" textLength="32.3" lengthAdjust="spacingAndGlyphs">0.68000</text>
<text x="927" y="59.1" font-size="9.9" fill="#131722" stroke="#131722" stroke-width="0.12" textLength="32.3" lengthAdjust="spacingAndGlyphs">0.67000</text>
<text x="927" y="90.9" font-size="9.9" fill="#131722" stroke="#131722" stroke-width="0.12" textLength="32.3" lengthAdjust="spacingAndGlyphs">0.66000</text>
<text x="927" y="156.0" font-size="9.9" fill="#131722" stroke="#131722" stroke-width="0.12" textLength="32.3" lengthAdjust="spacingAndGlyphs">0.64000</text>
<text x="927" y="189.3" font-size="9.9" fill="#131722" stroke="#131722" stroke-width="0.12" textLength="32.3" lengthAdjust="spacingAndGlyphs">0.63000</text>
<text x="927" y="223.1" font-size="9.9" fill="#131722" stroke="#131722" stroke-width="0.12" textLength="32.3" lengthAdjust="spacingAndGlyphs">0.62000</text>
<text x="927" y="257.5" font-size="9.9" fill="#131722" stroke="#131722" stroke-width="0.12" textLength="32.3" lengthAdjust="spacingAndGlyphs">0.61000</text>
<text x="927" y="285.4" font-size="9.9" fill="#131722" stroke="#131722" stroke-width="0.12" textLength="32.3" lengthAdjust="spacingAndGlyphs">0.60200</text>
<text x="927" y="313.7" font-size="9.9" fill="#131722" stroke="#131722" stroke-width="0.12" textLength="32.3" lengthAdjust="spacingAndGlyphs">0.59400</text>
<text x="927" y="338.7" font-size="9.9" fill="#131722" stroke="#131722" stroke-width="0.12" textLength="32.3" lengthAdjust="spacingAndGlyphs">0.58700</text>
<rect x="921" y="67.7" width="42.2" height="12.8" rx="1.8" fill="#4caf50"/>
<text x="927" y="77.8" font-size="10.1" fill="#fff" font-weight="bold" textLength="32.3" lengthAdjust="spacingAndGlyphs">0.66411</text>
<rect x="921" y="101.2" width="42.2" height="38.6" rx="1.8" fill="#ff9800"/>
<rect x="921" y="101.2" width="42.2" height="12.9" rx="1.8" fill="#ff6d00"/>
<text x="927" y="111.4" font-size="10.1" fill="#fff" font-weight="bold" textLength="32.3" lengthAdjust="spacingAndGlyphs">0.65370</text>
<rect x="921" y="112" width="42.2" height="2.1" fill="#ff6d00"/>
<rect x="921" y="126.9" width="42.2" height="12.9" rx="1.8" fill="#f9c21b"/>
<text x="927" y="137.0" font-size="10.1" fill="#131722" font-weight="bold" textLength="32.3" lengthAdjust="spacingAndGlyphs">0.65273</text>
<rect x="921" y="126.9" width="42.2" height="2.1" fill="#f9c21b"/>
<text x="927" y="124.2" font-size="10.1" fill="#131722" font-weight="bold" textLength="32.3" lengthAdjust="spacingAndGlyphs">0.65339</text>
<rect x="921" y="347.8" width="32.6" height="12.8" rx="1.8" fill="#7e57c2"/>
<text x="927" y="357.9" font-size="10.1" fill="#fff" font-weight="bold" textLength="22.5" lengthAdjust="spacingAndGlyphs">68.59</text>
<rect x="921" y="361.4" width="32.6" height="13" rx="1.8" fill="#fdd835"/>
<text x="927" y="371.6" font-size="10.1" fill="#131722" font-weight="bold" textLength="22.5" lengthAdjust="spacingAndGlyphs">51.72</text>
<text x="927" y="382" font-size="10.1" fill="#131722" stroke="#131722" stroke-width="0.12" textLength="22.5" lengthAdjust="spacingAndGlyphs">40.00</text>
<text x="67.6" y="408.8" font-size="9.4" font-weight="bold" fill="#131722" textLength="14.4" lengthAdjust="spacingAndGlyphs">Apr</text>
<text x="167" y="408.8" font-size="9.4" font-weight="bold" fill="#131722" textLength="16.4" lengthAdjust="spacingAndGlyphs">May</text>
<text x="267.6" y="408.8" font-size="9.4" font-weight="bold" fill="#131722" textLength="15.4" lengthAdjust="spacingAndGlyphs">Jun</text>
<text x="365.05" y="408.8" font-size="9.4" font-weight="bold" fill="#131722" textLength="12.7" lengthAdjust="spacingAndGlyphs">Jul</text>
<text x="469.15" y="408.8" font-size="9.4" font-weight="bold" fill="#131722" textLength="15.3" lengthAdjust="spacingAndGlyphs">Aug</text>
<text x="565.1" y="408.8" font-size="9.4" font-weight="bold" fill="#131722" textLength="14.8" lengthAdjust="spacingAndGlyphs">Sep</text>
<text x="666.15" y="408.8" font-size="9.4" font-weight="bold" fill="#131722" textLength="14.3" lengthAdjust="spacingAndGlyphs">Oct</text>
<text x="770.55" y="408.8" font-size="9.4" font-weight="bold" fill="#131722" textLength="15.7" lengthAdjust="spacingAndGlyphs">Nov</text>
<text x="862.05" y="408.8" font-size="9.4" font-weight="bold" fill="#131722" textLength="15.1" lengthAdjust="spacingAndGlyphs">Dec</text>
<text x="13.8" y="35.2" font-size="9.2" fill="#131722" stroke="#131722" stroke-width="0.28" textLength="40.9" lengthAdjust="spacingAndGlyphs">Australian</text>
<text x="57.1" y="35.2" font-size="9.2" fill="#131722" stroke="#131722" stroke-width="0.28" textLength="24.2" lengthAdjust="spacingAndGlyphs">Dollar</text>
<text x="85" y="35.2" font-size="9.2" fill="#131722" stroke="#131722" stroke-width="0.28" textLength="3.2" lengthAdjust="spacingAndGlyphs">/</text>
<text x="92.1" y="35.2" font-size="9.2" fill="#131722" stroke="#131722" stroke-width="0.28" textLength="17.3" lengthAdjust="spacingAndGlyphs">U.S.</text>
<text x="112.2" y="35.2" font-size="9.2" fill="#131722" stroke="#131722" stroke-width="0.28" textLength="23.2" lengthAdjust="spacingAndGlyphs">Dollar</text>
<text x="145.6" y="35.2" font-size="9.2" fill="#131722" stroke="#131722" stroke-width="0.28" textLength="8.6" lengthAdjust="spacingAndGlyphs">1D</text>
<text x="164.3" y="35.2" font-size="9.2" fill="#131722" stroke="#131722" stroke-width="0.28" textLength="27.8" lengthAdjust="spacingAndGlyphs">OANDA</text>
<text x="198.6" y="35.2" font-size="9.2" fill="#131722" stroke="#131722" stroke-width="0.28" textLength="37.7" lengthAdjust="spacingAndGlyphs">O0.66108</text>
<text x="242.2" y="35.2" font-size="9.2" fill="#131722" stroke="#131722" stroke-width="0.28" textLength="37.4" lengthAdjust="spacingAndGlyphs">H0.66490</text>
<text x="286" y="35.2" font-size="9.2" fill="#131722" stroke="#131722" stroke-width="0.28" textLength="36.2" lengthAdjust="spacingAndGlyphs">L0.66054</text>
<text x="327.9" y="35.2" font-size="9.2" fill="#131722" stroke="#131722" stroke-width="0.28" textLength="36.9" lengthAdjust="spacingAndGlyphs">C0.66411</text>
<text x="371.5" y="35.2" font-size="9.2" fill="#131722" stroke="#131722" stroke-width="0.28" textLength="36" lengthAdjust="spacingAndGlyphs">+0.00312</text>
<text x="411.5" y="35.2" font-size="9.2" fill="#131722" stroke="#131722" stroke-width="0.28" textLength="33.9" lengthAdjust="spacingAndGlyphs">(+0.47%)</text>
<rect x="139.7" y="31.3" width="1.3" height="1.3" fill="#131722"/>
<rect x="158.9" y="31.3" width="1.3" height="1.3" fill="#131722"/>
<circle cx="906.8" cy="336.3" r="7.5" fill="#fff" stroke="#f23645" stroke-width="1.3"/>
<clipPath id="c9068"><circle cx="906.8" cy="336.3" r="6.15"/></clipPath>
<g clip-path="url(#c9068)">
<rect x="900.65" y="330.15" width="12.3" height="12.3" fill="#fff"/>
<rect x="900.65" y="330.15" width="12.3" height="1.76" fill="#f23645"/>
<rect x="900.65" y="333.66" width="12.3" height="1.76" fill="#f23645"/>
<rect x="900.65" y="337.18" width="12.3" height="1.76" fill="#f23645"/>
<rect x="900.65" y="340.69" width="12.3" height="1.76" fill="#f23645"/>
<rect x="900.65" y="330.15" width="6.45" height="7.35" fill="#4a8fe8"/>
</g>
<circle cx="903" cy="336.3" r="7.5" fill="#fff" stroke="#f23645" stroke-width="1.3"/>
<clipPath id="c9030"><circle cx="903" cy="336.3" r="6.15"/></clipPath>
<g clip-path="url(#c9030)">
<rect x="896.85" y="330.15" width="12.3" height="12.3" fill="#fff"/>
<rect x="896.85" y="330.15" width="12.3" height="1.76" fill="#f23645"/>
<rect x="896.85" y="333.66" width="12.3" height="1.76" fill="#f23645"/>
<rect x="896.85" y="337.18" width="12.3" height="1.76" fill="#f23645"/>
<rect x="896.85" y="340.69" width="12.3" height="1.76" fill="#f23645"/>
<rect x="896.85" y="330.15" width="6.45" height="7.35" fill="#4a8fe8"/>
</g>
<circle cx="898.4" cy="336.3" r="7.5" fill="#fff" stroke="#f23645" stroke-width="1.3"/>
<clipPath id="c8984"><circle cx="898.4" cy="336.3" r="6.15"/></clipPath>
<g clip-path="url(#c8984)">
<rect x="892.25" y="330.15" width="12.3" height="12.3" fill="#fff"/>
<rect x="892.25" y="330.15" width="12.3" height="1.76" fill="#f23645"/>
<rect x="892.25" y="333.66" width="12.3" height="1.76" fill="#f23645"/>
<rect x="892.25" y="337.18" width="12.3" height="1.76" fill="#f23645"/>
<rect x="892.25" y="340.69" width="12.3" height="1.76" fill="#f23645"/>
<rect x="892.25" y="330.15" width="6.45" height="7.35" fill="#4a8fe8"/>
</g>
<circle cx="887.3" cy="336.3" r="7.5" fill="#fff" stroke="#f23645" stroke-width="1.3"/>
<clipPath id="c8873"><circle cx="887.3" cy="336.3" r="6.15"/></clipPath>
<g clip-path="url(#c8873)">
<rect x="881.15" y="330.15" width="12.3" height="12.3" fill="#fff"/>
<rect x="881.15" y="330.15" width="12.3" height="1.76" fill="#f23645"/>
<rect x="881.15" y="333.66" width="12.3" height="1.76" fill="#f23645"/>
<rect x="881.15" y="337.18" width="12.3" height="1.76" fill="#f23645"/>
<rect x="881.15" y="340.69" width="12.3" height="1.76" fill="#f23645"/>
<rect x="881.15" y="330.15" width="6.45" height="7.35" fill="#4a8fe8"/>
</g>
<circle cx="887.3" cy="317.8" r="6.9" fill="#fff" stroke="#a13cc0" stroke-width="1.2"/>
<path d="M890.2 313.0 L884.0 318.9 L887.2 318.9 L885.0 323.0 L891.0 317.0 L888 317.0 Z" fill="#a13cc0"/>
<circle cx="896.9" cy="317.4" r="7.5" fill="#fff" stroke="#f23645" stroke-width="1.3"/>
<clipPath id="au"><circle cx="896.9" cy="317.4" r="6.15"/></clipPath>
<g clip-path="url(#au)"><rect x="890" y="310.5" width="14" height="14" fill="#1a3b8f"/>
<rect x="890" y="310.5" width="7" height="6" fill="#e8eaf6"/>
<path d="M891 311.5 L897 316.5 M897 311.5 L891 316.5" stroke="#f23645" stroke-width="1.3"/>
<path d="M893.5 310.5 V316.5 M890 313.5 H897" stroke="#f23645" stroke-width="0.8"/>
<circle cx="894.2" cy="320.2" r="0.7" fill="#fff"/>
<circle cx="899.6" cy="314.2" r="0.7" fill="#fff"/>
<circle cx="901" cy="317.6" r="0.7" fill="#fff"/>
<circle cx="899.2" cy="320.8" r="0.7" fill="#fff"/>
<circle cx="897.8" cy="317.4" r="0.7" fill="#fff"/>
</g>
<g fill="#111">
<path d="M9.1 433.1 H18.1 V444.7 H13.9 V437.6 H9.1 Z"/>
<circle cx="22.0" cy="435.4" r="2.1"/>
<path d="M26.9 433.1 H31.6 L27.3 444.7 H22.3 Z"/>
<text x="37.4" y="444.6" font-size="15.6" stroke="#111" stroke-width="0.8" stroke-linejoin="round" textLength="91.2" lengthAdjust="spacingAndGlyphs">TradingView</text>
</g>
</g></svg></body></html>
